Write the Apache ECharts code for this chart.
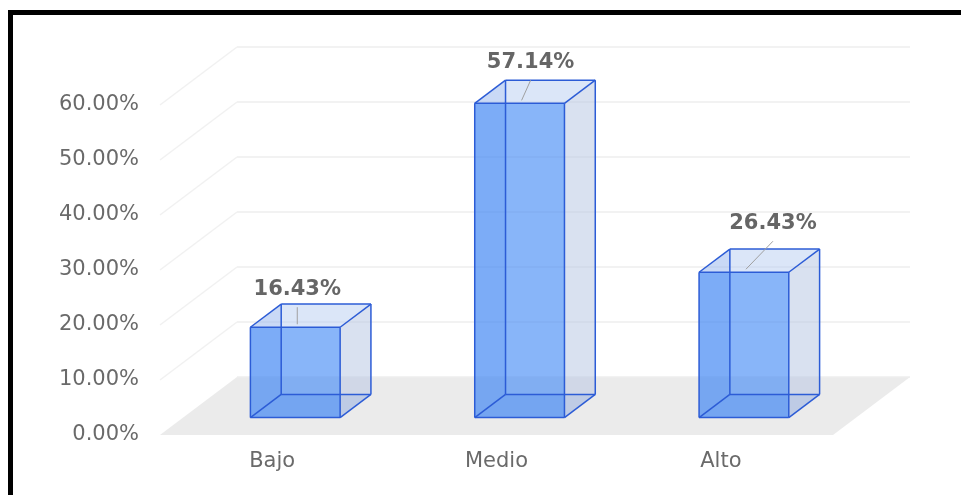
<!DOCTYPE html>
<html><head><meta charset="utf-8">
<script src="https://cdn.jsdelivr.net/npm/echarts@6/dist/echarts.min.js"></script>
<style>html,body{margin:0;padding:0;background:#fff}#c{width:961px;height:495px}</style>
</head><body><div id="c"></div>
<script>
var categories = ['Bajo', 'Medio', 'Alto'];
var values = [16.43, 57.14, 26.43];
var yTicks = [0, 10, 20, 30, 40, 50, 60];

// layout / style constants
var DEPTH_X = 77, DEPTH_Y = -58;      // floor depth (px)
var BAR_D0 = 0.3, BAR_D1 = 0.7;       // bar occupies this slice of depth
var BAR_FRAC = 0.4;                   // bar width relative to category band
var labelNudge = [[2, -38], [11, -41], [29, -49]];
var FONT = '"DejaVu Sans", "Liberation Sans", Arial, sans-serif';
var EDGE = '#2c5cd6';

function renderWalls(params, api) {
  var cs = params.coordSys;
  var x0 = cs.x, x1 = cs.x + cs.width;
  var y0 = api.coord([0, 0])[1];
  var ch = [];
  ch.push({type: 'polygon', shape: {points: [[x0, y0], [x1, y0], [x1 + DEPTH_X, y0 + DEPTH_Y], [x0 + DEPTH_X, y0 + DEPTH_Y]]},
    style: {fill: '#ebebeb'}});
  yTicks.forEach(function (t) {
    var y = api.coord([0, t])[1];
    ch.push({type: 'line', shape: {x1: x0 + DEPTH_X, y1: y + DEPTH_Y, x2: x1 + DEPTH_X, y2: y + DEPTH_Y},
      style: {stroke: '#eeeeee', lineWidth: 1.5}});
    if (t > 0) {
      ch.push({type: 'line', shape: {x1: x0, y1: y, x2: x0 + DEPTH_X, y2: y + DEPTH_Y},
        style: {stroke: '#f1f1f1', lineWidth: 1.5}});
    }
  });
  return {type: 'group', children: ch};
}

function renderBox(params, api) {
  var idx = params.dataIndex;
  var cat = api.value(0), val = api.value(1);
  var c = api.coord([cat, 0]);
  var t = api.coord([cat, val]);
  var band = api.size([1, 0])[0];
  var hw = band * BAR_FRAC / 2;
  function P(dx, y, d) { return [c[0] + dx + d * DEPTH_X, y + d * DEPTH_Y]; }
  var yb = c[1], yt = t[1];
  var fbl = P(-hw, yb, BAR_D0), fbr = P(hw, yb, BAR_D0), ftr = P(hw, yt, BAR_D0), ftl = P(-hw, yt, BAR_D0);
  var bbl = P(-hw, yb, BAR_D1), bbr = P(hw, yb, BAR_D1), btr = P(hw, yt, BAR_D1), btl = P(-hw, yt, BAR_D1);
  function face(pts, fill) { return {type: 'polygon', shape: {points: pts}, style: {fill: fill}}; }
  function edge(a, b) { return {type: 'line', shape: {x1: a[0], y1: a[1], x2: b[0], y2: b[1]}, style: {stroke: EDGE, lineWidth: 1.5}}; }
  var ch = [
    face([bbl, bbr, btr, btl], 'rgba(120,170,245,0.15)'),
    face([fbl, bbl, btl, ftl], 'rgba(60,120,235,0.25)'),
    face([fbl, fbr, bbr, bbl], 'rgba(60,120,235,0.28)'),
    face([fbr, bbr, btr, ftr], 'rgba(195,205,225,0.45)'),
    face([ftl, ftr, btr, btl], 'rgba(195,212,240,0.4)'),
    face([fbl, fbr, ftr, ftl], 'rgba(70,140,245,0.6)')
  ];
  [[fbl, fbr], [fbr, ftr], [ftr, ftl], [ftl, fbl],
   [bbl, bbr], [bbr, btr], [btr, btl], [btl, bbl],
   [fbl, bbl], [fbr, bbr], [ftr, btr], [ftl, btl]].forEach(function (e) { ch.push(edge(e[0], e[1])); });
  var fc = [(ftl[0] + ftr[0]) / 2, ftl[1]];
  var n = labelNudge[idx] || [0, -40];
  var lx = fc[0] + n[0], ly = fc[1] + n[1];
  ch.push({type: 'line', shape: {x1: lx, y1: ly + 18, x2: fc[0] + 2, y2: fc[1] - 3},
    style: {stroke: '#a0a0a0', lineWidth: 1}});
  ch.push({type: 'text', style: {text: val.toFixed(2) + '%', x: lx, y: ly, align: 'center', verticalAlign: 'middle',
    fontFamily: FONT, fontSize: 21, fontWeight: 'bold', fill: '#666666'}});
  return {type: 'group', children: ch};
}

var chart = echarts.init(document.getElementById('c'), null, {renderer: 'canvas'});
chart.setOption({
  backgroundColor: '#ffffff',
  animation: false,
  grid: {left: 160, right: 128, top: 105, bottom: 60},
  xAxis: {
    type: 'category', data: categories,
    axisLine: {show: false}, axisTick: {show: false},
    axisLabel: {margin: 16, color: '#6a6a6a', fontFamily: FONT, fontSize: 21}
  },
  yAxis: {
    type: 'value', min: 0, max: 60, interval: 10,
    axisLine: {show: false}, axisTick: {show: false}, splitLine: {show: false},
    axisLabel: {margin: 21, color: '#6a6a6a', fontFamily: FONT, fontSize: 21,
      formatter: function (v) { return v.toFixed(2) + '%'; }}
  },
  graphic: [{type: 'rect', shape: {x: 10.5, y: 12.5, width: 1200, height: 800},
    style: {fill: 'none', stroke: '#000', lineWidth: 5}, z: 100}],
  series: [
    {type: 'custom', z: 1, renderItem: renderWalls, data: [[0, 0]], silent: true},
    {type: 'custom', z: 2, renderItem: renderBox,
      data: values.map(function (v, i) { return [i, v]; })}
  ]
});
</script></body></html>
